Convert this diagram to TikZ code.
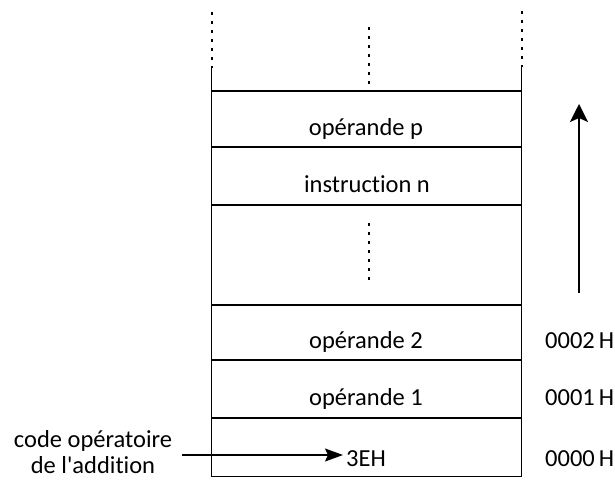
\documentclass[tikz,border=0pt]{standalone}
\usepackage{fontspec}
\setmainfont{Carlito}[Ligatures={NoCommon}]
\usetikzlibrary{arrows.meta}
\begin{document}
\begin{tikzpicture}[x=1pt,y=-1pt,
  wall/.style={line width=1.7pt},
  dots/.style={line width=2pt,dash pattern=on 2.5pt off 6.5pt},
  lbl/.style={font=\fontsize{24.5}{26}\selectfont,inner sep=0pt,anchor=base},
  arr/.style={line width=1.5pt,-{Stealth[length=18pt,width=13pt,inset=3pt]}},
  uparr/.style={line width=2.2pt,-{Stealth[length=18pt,width=18pt,inset=4pt]}}]
\useasboundingbox (0,0) rectangle (615,479);
% walls
\coordinate (lt) at (211.5,67);
\coordinate (rt) at (521.5,67);
\coordinate (lb) at (211.5,476.5);
\coordinate (rb) at (521.5,476.5);
\draw[wall] (lt) -- (lb) -- (rb) -- (rt);
\draw[dots] (211.5,12) -- (211.5,68);
\draw[dots] (521.5,11) -- (521.5,67);
\draw[dots] (369,27) -- (369,84);
% row lines
\foreach \y/\n in {91/r0,147/r1,205/r2,305/r3,360/r4,418/r5}{
  \coordinate (a\n) at (211.5,\y);
  \coordinate (b\n) at (521.5,\y);
  \draw[wall] (a\n) -- (b\n);
}
\draw[dots] (369,223) -- (369,282);
% texts
\node[lbl] (op) at (366,135) {opérande p};
\node[lbl] (in) at (367,192) {instruction n};
\node[lbl] (o2) at (366,348) {opérande 2};
\node[lbl] (o1) at (366,405) {opérande 1};
\node[lbl,anchor=base west] (e3) at (346,466) {3EH};
\node[lbl,anchor=base west] (h2) at (545,348) {0002\,H};
\node[lbl,anchor=base west] (h1) at (545,405) {0001\,H};
\node[lbl,anchor=base west] (h0) at (545,466) {0000\,H};
\node[lbl] (code1) at (93,447) {code opératoire};
\node[lbl] (code2) at (93,473) {de l\textquotesingle addition};
\coordinate (cs) at (182,455);
\coordinate (ce) at (343,455);
\draw[arr] (cs) -- (ce);
\coordinate (up1) at (579,293);
\coordinate (up2) at (579,104);
\draw[uparr] (up1) -- (up2);
\end{tikzpicture}
\end{document}
